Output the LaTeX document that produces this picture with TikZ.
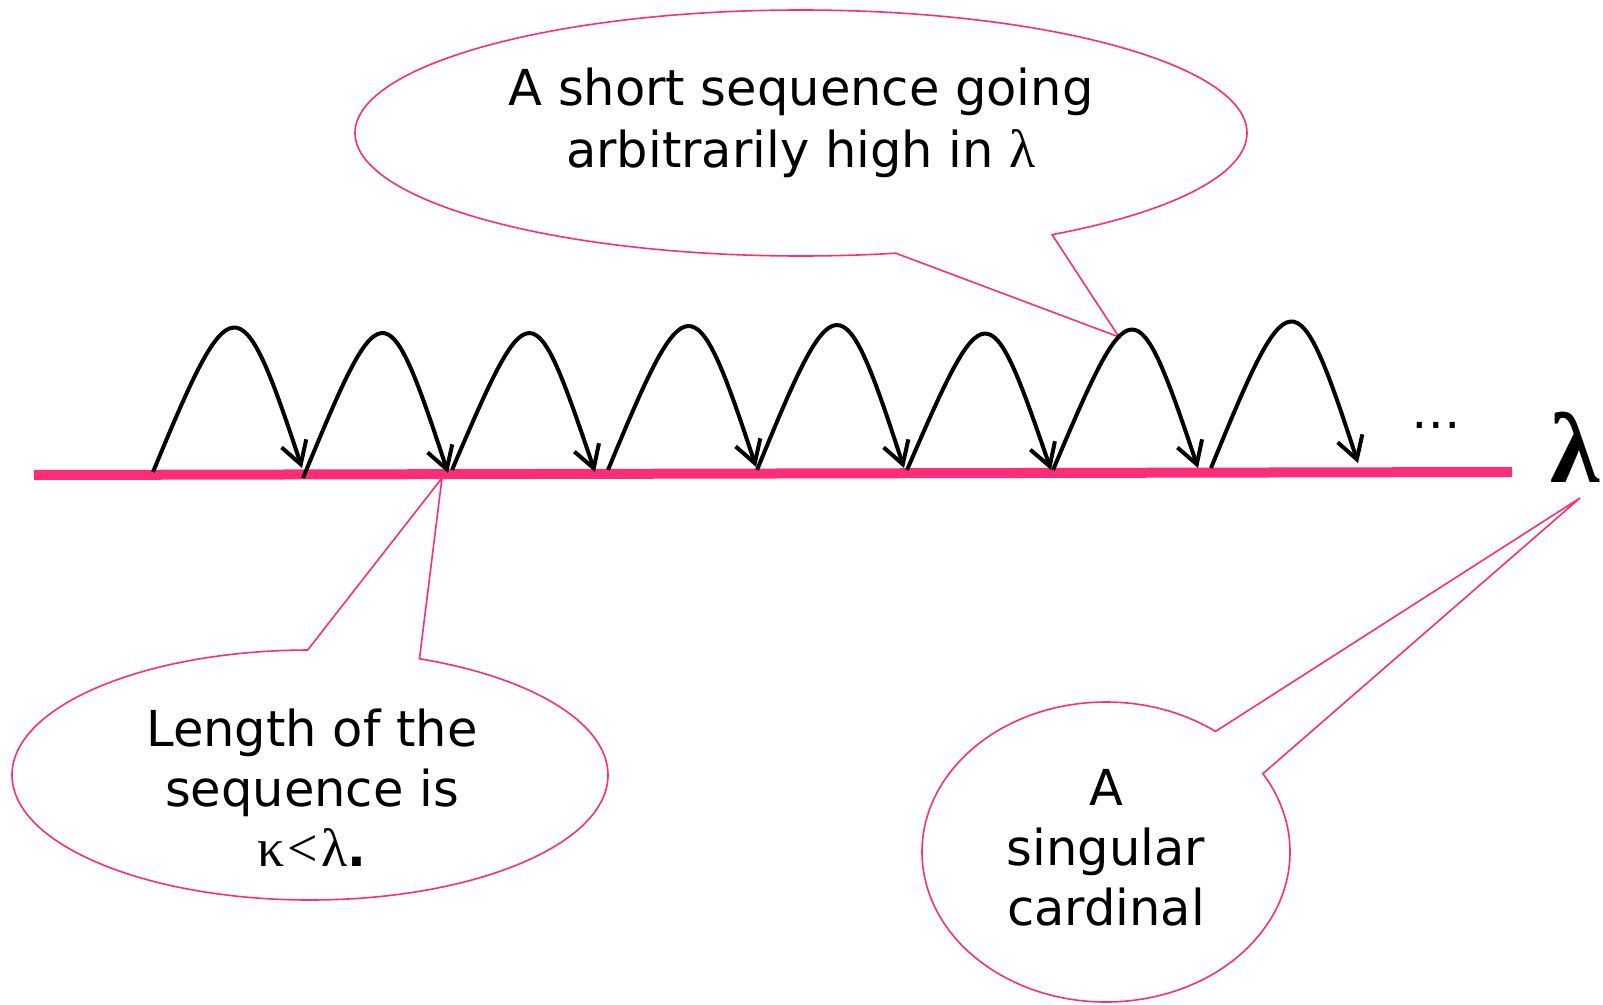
\documentclass[tikz,border=0pt]{standalone}
\usepackage{fontspec}
\setmainfont{DejaVu Sans}
\newfontfamily\greekfont{Liberation Serif}
\usetikzlibrary{arrows.meta,shapes.callouts}
\definecolor{cardpink}{RGB}{255,45,120}
\newcommand{\bubblesize}{\fontsize{49.5}{60}\selectfont}
\newcommand{\gk}[1]{{\greekfont\fontsize{54}{60}\selectfont #1}}

\begin{document}
\begin{tikzpicture}[x=1pt, y=-1pt,
    bubble/.style={ellipse callout, draw=cardpink, fill=white, line width=1.6pt,
        inner sep=0pt, callout pointer arc=22},
    bubbletext/.style={font=\bubblesize, align=center, inner sep=0pt},
    jump/.style={draw=black, line width=4pt, -{Straight Barb[length=22pt,width=26pt]}},
    axisline/.style={draw=cardpink, line width=10pt}
]
\useasboundingbox (0,0) rectangle (1603,1004);

% points on the line
\coordinate (lineL) at (34,475);
\coordinate (lineR) at (1512,472);
\coordinate (s1) at (153,472);  \coordinate (e1) at (302,468);
\coordinate (s2) at (303,478);  \coordinate (e2) at (448,473);
\coordinate (s3) at (452,470);  \coordinate (e3) at (595,472);
\coordinate (s4) at (608,470);  \coordinate (e4) at (756,467);
\coordinate (s5) at (757,470);  \coordinate (e5) at (904,468);
\coordinate (s6) at (907,470);  \coordinate (e6) at (1051,470);
\coordinate (s7) at (1053,470); \coordinate (e7) at (1198,468);
\coordinate (s8) at (1211,468); \coordinate (e8) at (1358,463);

% where the callouts point
\coordinate (tipHigh) at (1119,337);
\coordinate (tipLength) at (442,478);
\coordinate (tipSingular) at (1580,498);

% callouts
\node[bubble, minimum width=892pt, minimum height=246pt,
    callout absolute pointer={(tipHigh)}] (high) at (801,133) {};
\node[bubble, minimum width=596pt, minimum height=250pt,
    callout absolute pointer={(tipLength)}] (length) at (310,775) {};
\node[bubble, minimum width=368pt, minimum height=300pt,
    callout absolute pointer={(tipSingular)}] (singular) at (1106,852) {};

\node[bubbletext, font=\fontsize{49.5}{62}\selectfont] (highText) at (801,123)
    {A short sequence going\\arbitrarily high in \gk{λ}};
\node[bubbletext] (lengthText) at (312,788)
    {Length of the\\sequence is\\\gk{κ\kern3pt<\kern3pt λ}\textbf{.}};
\node[bubbletext] (singularText) at (1106,848)
    {A\\singular\\cardinal};

% the cardinal and the jumps
\draw[axisline] (lineL) -- (lineR);
\foreach \i/\h in {1/189,2/189,3/183,4/189,5/191,6/181,7/185,8/191}
    \draw[jump] (s\i) .. controls +(78,-\h) and +(-62,-\h) .. (e\i);

\node[font=\bubblesize, anchor=base, inner sep=0pt] (dots) at (1436,428) {…};
\node[font=\fontsize{100}{100}\greekfont\bfseries, anchor=base west, inner sep=0pt]
    (lambda) at (1550,482) {λ};
\end{tikzpicture}
\end{document}
